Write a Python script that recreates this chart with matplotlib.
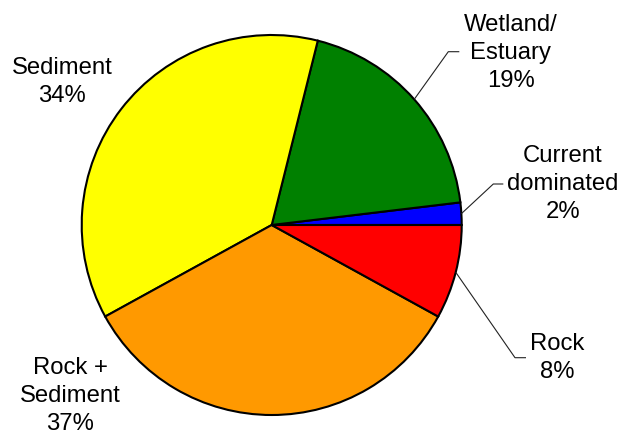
import numpy as np
import matplotlib
matplotlib.use("Agg")
import matplotlib.pyplot as plt

# Data (counter-clockwise from 3 o'clock, as drawn)
categories = ["Current\ndominated", "Wetland/\nEstuary", "Sediment", "Rock +\nSediment", "Rock"]
values = [1.9, 19.2, 36.9, 34.0, 8.0]          # slice sizes as drawn
pct_labels = ["2%", "19%", "34%", "37%", "8%"]  # percentages as printed
colors = ["#0000FF", "#008000", "#FFFF00", "#FF9900", "#FF0000"]

W, H = 629, 437
fig = plt.figure(figsize=(W / 100, H / 100), dpi=100)
ax = fig.add_axes([0, 0, 1, 1])
ax.set_xlim(0, W)
ax.set_ylim(0, H)
ax.axis("off")

cx, cy, R = 271.7, H - 225.0, 190.0
wedges, _ = ax.pie(values, colors=colors, startangle=0, counterclock=True,
                   center=(cx, cy), radius=R,
                   wedgeprops=dict(edgecolor="black", linewidth=1.5))
ax.set_xlim(0, W)
ax.set_ylim(0, H)
ax.set_aspect("auto")

font = dict(family=["Liberation Sans", "DejaVu Sans"], fontsize=17.2, color="black")

# label layout: (text center x, text center y (pixel from top), leader elbow, leader end) ; None = no leader
layout = [
    (563, 184, (493.3, 184), (503.3, 184)),
    (511, 53, (448.3, 51.7), (459.3, 51.7)),
    (62, 82, None, None),
    (70, 396, None, None),
    (557, 358, (515, 357.7), (526, 357.7)),
]

for w, cat, pct, (tx, ty, elbow, end) in zip(wedges, categories, pct_labels, layout):
    ax.text(tx, H - ty, f"{cat}\n{pct}", ha="center", va="center",
            linespacing=1.36, **font)
    if elbow is not None:
        mid = np.deg2rad((w.theta1 + w.theta2) / 2)
        sx, sy = cx + R * np.cos(mid), cy + R * np.sin(mid)
        ax.plot([sx, elbow[0], end[0]], [sy, H - elbow[1], H - end[1]],
                color="#222222", linewidth=0.8, solid_capstyle="butt")

fig.savefig("out.png", dpi=100)
